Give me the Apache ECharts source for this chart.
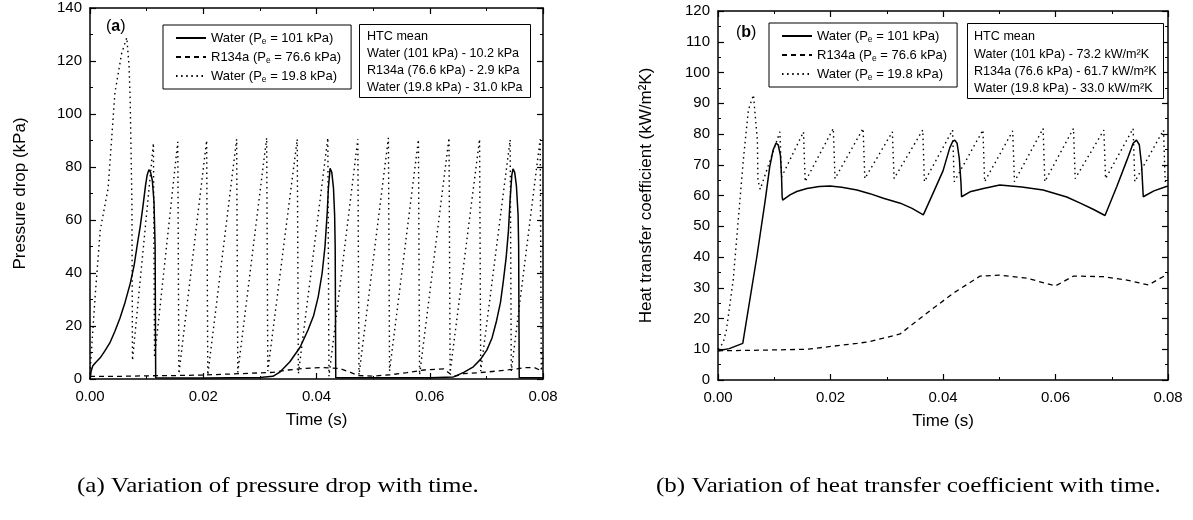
<!DOCTYPE html>
<html>
<head>
<meta charset="utf-8">
<script src="https://cdn.jsdelivr.net/npm/echarts@6/dist/echarts.min.js"></script>
<style>
html,body{margin:0;padding:0;background:#fff;}
#chart{width:1193px;height:520px;}
</style>
</head>
<body>
<div id="chart"></div>
<script>
// ---------- DATA ----------
const seriesNames = ['Water (Pe = 101 kPa)', 'R134a (Pe = 76.6 kPa)', 'Water (Pe = 19.8 kPa)'];
const xTicks = [0, 0.02, 0.04, 0.06, 0.08];

// (a) pressure drop (kPa) vs time (s)
const pdWater101 = [
  [0,0],[0.0002,3],[0.0005,5],[0.0010,6.2],[0.0018,8],[0.0026,10.5],[0.0035,13.6],[0.0044,18],
  [0.0053,23],[0.0062,29],[0.0071,36],[0.0078,43],[0.0083,50],[0.0089,58],[0.0094,66],
  [0.0098,73],[0.0101,77],[0.0104,79],[0.0107,78],[0.0110,75],[0.0113,67],[0.0115,50],[0.0116,0.5],
  [0.0200,0.4],[0.0300,0.6],[0.0323,1.0],[0.0336,2.7],[0.0353,6.5],[0.0371,12],[0.0385,18.5],
  [0.0395,24],[0.0403,31],[0.0410,40],[0.0415,50],[0.0419,63],[0.0421,72],[0.0424,79.5],
  [0.0427,78],[0.0430,72],[0.0432,62],[0.0433,50],[0.0434,0.5],[0.0500,0.5],[0.0600,0.5],
  [0.0642,0.8],[0.0660,2.5],[0.0677,4.6],[0.0690,7.5],[0.0701,11],[0.0710,15.5],[0.0718,22],
  [0.0725,29],[0.0730,37],[0.0735,46],[0.0739,56],[0.0742,68],[0.0745,77],[0.0747,79.3],
  [0.0750,78],[0.0753,73],[0.0756,62],[0.0757,50],[0.0758,0.5],[0.0800,0.5]
];
const pdR134a = [
  [0,1.0],[0.005,1.0],[0.010,1.2],[0.015,1.3],[0.020,1.5],[0.025,1.9],[0.030,2.3],[0.0323,2.5],
  [0.035,3.4],[0.038,4.0],[0.041,4.3],[0.044,4.0],[0.046,2.5],[0.0474,1.3],[0.050,1.1],
  [0.053,1.6],[0.056,2.4],[0.059,3.4],[0.0625,3.8],[0.0642,0.9],[0.066,2.0],[0.070,2.6],
  [0.074,3.5],[0.077,4.3],[0.0785,4.3],[0.080,2.8]
];
const pdWater19 = [
  [0,2],[0.0003,12],[0.0009,31],[0.0018,56],[0.0032,72],[0.0044,108],[0.0056,123],[0.0065,128.8],
  [0.0069,118],[0.0071,105],[0.0074,67],[0.0075,7],
  [0.0112,89],[0.0114,8],[0.0155,89.5],[0.0157,2],[0.0206,90],[0.0208,1.5],
  [0.0259,90.5],[0.0261,2.5],[0.0312,91],[0.0314,3],[0.0366,90.5],[0.0368,2],
  [0.0420,91],[0.0422,1],[0.0473,90.5],[0.0475,1.5],[0.0527,91],[0.0529,3],
  [0.0580,90.3],[0.0582,1.5],[0.0634,91],[0.0636,2.5],[0.0688,90.5],[0.0690,3],
  [0.0742,90.3],[0.0744,3],[0.0795,90.5],[0.0797,3],[0.0800,8]
];

// (b) heat transfer coefficient (kW/m2K) vs time (s)
const htcWater101 = [
  [0,9.5],[0.002,10.2],[0.0044,11.9],[0.0069,40],[0.0084,58.5],[0.0092,69.4],[0.0098,74.8],
  [0.0103,77],[0.0107,76.5],[0.0111,73],[0.0113,66],[0.0114,59.6],[0.0115,58.5],[0.0128,60.2],
  [0.0140,61.3],[0.0158,62.3],[0.0180,62.9],[0.0199,63.1],[0.0220,62.7],[0.0247,61.8],
  [0.0270,60.6],[0.0294,59.1],[0.0324,57.5],[0.0345,55.8],[0.0365,53.7],
  [0.0383,61],[0.0400,68],[0.0412,75.5],[0.0417,77.5],[0.0421,78],[0.0425,77],[0.0429,72],
  [0.0432,64],[0.0433,59.6],[0.0448,61.2],[0.0472,62.3],[0.0501,63.4],[0.0540,62.8],
  [0.0578,61.8],[0.0620,59.5],[0.0644,57.5],[0.0666,55.6],[0.0688,53.5],[0.0709,62.9],
  [0.0727,71.5],[0.0738,77],[0.0744,78],[0.0749,76.5],[0.0753,70],[0.0756,59.6],
  [0.0775,61.5],[0.0797,62.9],[0.0800,63]
];
const htcR134a = [
  [0,9.5],[0.0079,9.7],[0.0158,10],[0.0247,11.9],[0.0270,12.5],[0.0294,13.6],[0.0324,15],
  [0.0371,21.7],[0.0418,28.2],[0.0466,33.8],[0.0501,34.1],[0.0549,33.1],[0.0600,30.6],
  [0.0632,33.8],[0.0685,33.6],[0.0727,32.5],[0.0765,30.9],[0.0800,34.5]
];
const htcWater19 = [
  [0,10],[0.0009,12],[0.0015,16.3],[0.0027,32.5],[0.0039,58.5],[0.0045,71.5],[0.0054,87.8],
  [0.0063,92.7],[0.0070,78],[0.0071,65],[0.0075,62],
  [0.0110,80.7],[0.0113,66],[0.0152,80.7],[0.0155,64.5],[0.0205,81.8],[0.0208,65.5],
  [0.0258,81.8],[0.0261,65.5],[0.0310,80.7],[0.0313,65.5],[0.0364,81.3],[0.0367,64.5],
  [0.0417,81.3],[0.0420,64.5],[0.0471,81.3],[0.0474,64.5],[0.0524,81],[0.0527,64.5],
  [0.0578,81.8],[0.0581,64.5],[0.0632,81.8],[0.0635,65.5],[0.0686,81.3],[0.0689,65.5],
  [0.0738,81.8],[0.0741,64.5],[0.0792,81.3],[0.0795,64.5],[0.0800,66]
];

const htcMeanA = ['HTC mean', 'Water (101 kPa) - 10.2 kPa', 'R134a (76.6 kPa) - 2.9 kPa', 'Water (19.8 kPa) - 31.0 kPa'];
const htcMeanB = ['HTC mean', 'Water (101 kPa) - 73.2 kW/m\u00B2K', 'R134a (76.6 kPa) - 61.7 kW/m\u00B2K', 'Water (19.8 kPa) - 33.0 kW/m\u00B2K'];
const captions = ['(a) Variation of pressure drop with time.', '(b) Variation of heat transfer coefficient with time.'];

// ---------- CHART ----------
const FONT = '"Liberation Sans", Arial, sans-serif';
const chart = echarts.init(document.getElementById('chart'), null, {renderer: 'canvas'});

function mkX(grid, pos, main) {
  return {
    type: 'value', gridIndex: grid, position: pos, min: 0, max: 0.08, interval: 0.02,
    name: main ? 'Time (s)' : '', nameLocation: 'middle', nameGap: 33,
    nameTextStyle: {fontFamily: FONT, fontSize: 17, color: '#000'},
    axisLine: {show: true, onZero: false, lineStyle: {color: '#000', width: 1.5}},
    axisTick: {show: true, inside: true, length: 6, lineStyle: {color: '#000', width: 1.2}},
    minorTick: {show: true, splitNumber: 2, length: 3, lineStyle: {color: '#000', width: 1}},
    axisLabel: {show: main, margin: 10, fontFamily: FONT, fontSize: 15, color: '#000',
      formatter: v => v.toFixed(2)},
    splitLine: {show: false}, minorSplitLine: {show: false}
  };
}
function mkY(grid, pos, main, max, interval, name, gap) {
  return {
    type: 'value', gridIndex: grid, position: pos, min: 0, max: max, interval: interval,
    name: main ? name : '', nameLocation: 'middle', nameGap: gap,
    nameTextStyle: {fontFamily: FONT, fontSize: 17, color: '#000'},
    axisLine: {show: true, onZero: false, lineStyle: {color: '#000', width: 1.5}},
    axisTick: {show: true, inside: true, length: 6, lineStyle: {color: '#000', width: 1.2}},
    minorTick: {show: true, splitNumber: 2, length: 3, lineStyle: {color: '#000', width: 1}},
    axisLabel: {show: main, margin: 8, fontFamily: FONT, fontSize: 15, color: '#000'},
    splitLine: {show: false}, minorSplitLine: {show: false}
  };
}

const styles = [
  {type: 'solid', width: 1.5},
  {type: [5, 4], width: 1.3},
  {type: [1.5, 3.6], width: 1.4}
];
function mkSeries(name, data, xi, yi, st, z) {
  return {
    type: 'line', name: name, data: data, xAxisIndex: xi, yAxisIndex: yi,
    symbol: 'none', showSymbol: false, smooth: false, z: z,
    lineStyle: {color: '#000', width: st.width, type: st.type, cap: 'butt'},
    itemStyle: {color: '#000'}
  };
}

function mkLegend(left, top) {
  return {
    left: left, top: top, orient: 'vertical', itemWidth: 30, itemHeight: 14, itemGap: 3,
    padding: [5, 10, 5, 12], borderColor: '#000', borderWidth: 1, backgroundColor: '#fff',
    selectedMode: false, data: seriesNames,
    itemStyle: {opacity: 0, color: 'rgba(0,0,0,0)', borderWidth: 0},
    formatter: n => n.replace('Pe', 'P{s|e}'),
    textStyle: {fontFamily: FONT, fontSize: 13, color: '#000', lineHeight: 16,
      rich: {s: {fontFamily: FONT, fontSize: 8.5, color: '#000', lineHeight: 16, verticalAlign: 'bottom'}}}
  };
}

function mkBox(x, y, w, h, lines, tx, ty, dy) {
  const els = [{type: 'rect', left: x, top: y, shape: {width: w, height: h},
    style: {fill: '#fff', stroke: '#000', lineWidth: 1}, z: 100}];
  lines.forEach((t, i) => {
    els.push({type: 'text', x: tx, y: ty + i * dy, z: 101,
      style: {text: t, font: '12.6px ' + FONT, fill: '#000', textVerticalAlign: 'middle'}});
  });
  return els;
}

const graphic = [].concat(
  mkBox(359, 24, 171, 73, htcMeanA, 367, 37, 17),
  mkBox(967, 23, 196, 75, htcMeanB, 974, 37, 17.3),
  [
    {type: 'text', x: 106, y: 27, z: 101, style: {text: '({b|a})', font: '16px ' + FONT, fill: '#000',
      textVerticalAlign: 'middle', rich: {b: {fontWeight: 'bold', fontSize: 16, fontFamily: FONT}}}},
    {type: 'text', x: 736, y: 33, z: 101, style: {text: '({b|b})', font: '16px ' + FONT, fill: '#000',
      textVerticalAlign: 'middle', rich: {b: {fontWeight: 'bold', fontSize: 16, fontFamily: FONT}}}},
    {type: 'text', x: 77, y: 486, scaleX: 1.19, style: {text: captions[0], font: '21px "Liberation Serif", serif', fill: '#000', textVerticalAlign: 'middle'}},
    {type: 'text', x: 656, y: 486, scaleX: 1.19, style: {text: captions[1], font: '21px "Liberation Serif", serif', fill: '#000', textVerticalAlign: 'middle'}}
  ]
);

const option = {
  animation: false,
  backgroundColor: '#fff',
  grid: [
    {left: 90, top: 8, width: 453, height: 371},
    {left: 718, top: 11, width: 450, height: 369}
  ],
  xAxis: [mkX(0, 'bottom', true), mkX(0, 'top', false), mkX(1, 'bottom', true), mkX(1, 'top', false)],
  yAxis: [
    mkY(0, 'left', true, 140, 20, 'Pressure drop (kPa)', 61),
    mkY(0, 'right', false, 140, 20, '', 0),
    mkY(1, 'left', true, 120, 10, 'Heat transfer coefficient (kW/m\u00B2K)', 63),
    mkY(1, 'right', false, 120, 10, '', 0)
  ],
  legend: [mkLegend(163, 25), mkLegend(769, 23)],
  series: [
    mkSeries(seriesNames[2], pdWater19, 0, 0, styles[2], 2),
    mkSeries(seriesNames[1], pdR134a, 0, 0, styles[1], 3),
    mkSeries(seriesNames[0], pdWater101, 0, 0, styles[0], 4),
    mkSeries(seriesNames[2], htcWater19, 2, 2, styles[2], 2),
    mkSeries(seriesNames[1], htcR134a, 2, 2, styles[1], 3),
    mkSeries(seriesNames[0], htcWater101, 2, 2, styles[0], 4)
  ],
  graphic: graphic
};
chart.setOption(option);
</script>
</body>
</html>
